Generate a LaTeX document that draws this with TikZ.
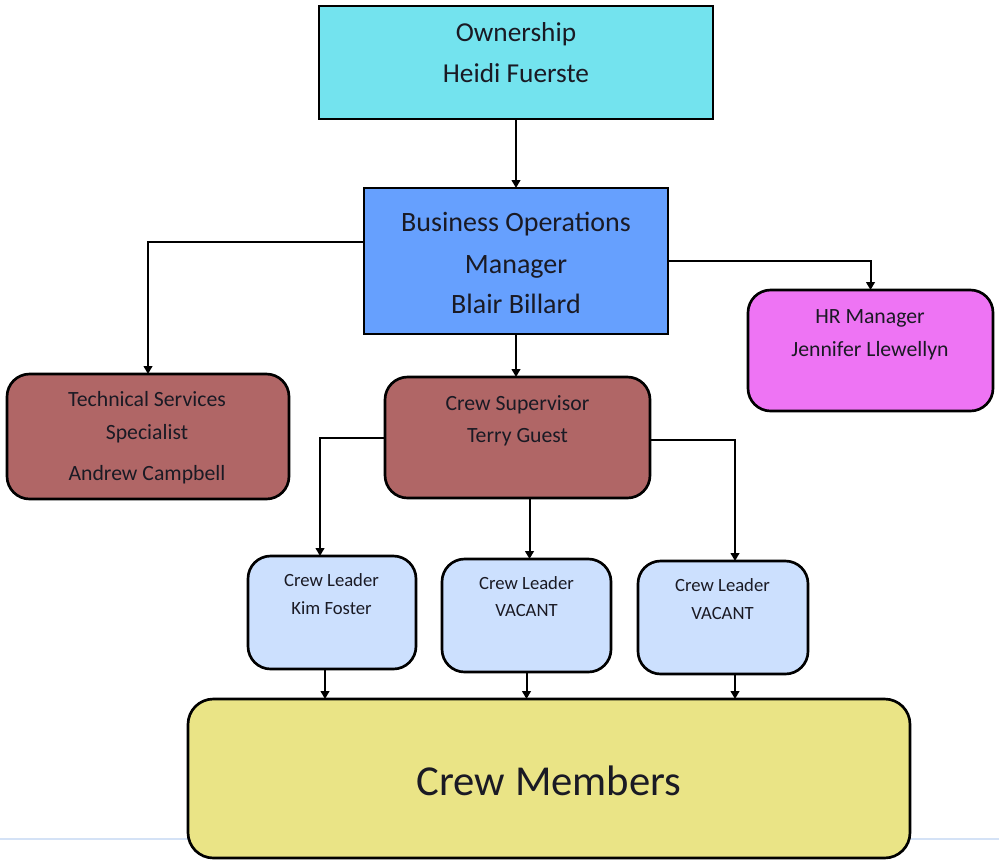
\documentclass[tikz,border=0pt]{standalone}
\usepackage{fontspec}
\setmainfont{Carlito}
\usetikzlibrary{arrows.meta}
\definecolor{owncol}{HTML}{73E3EE}
\definecolor{bomcol}{HTML}{66A0FE}
\definecolor{hrcol}{HTML}{EE74F4}
\definecolor{redcol}{HTML}{B06666}
\definecolor{clcol}{HTML}{CCE0FE}
\definecolor{crewcol}{HTML}{EAE486}
\definecolor{pagecol}{HTML}{D4E2F6}
\definecolor{txtcol}{HTML}{1A1A24}
\newcommand{\fsz}[1]{\fontsize{#1}{#1}\selectfont}
\begin{document}
\begin{tikzpicture}[x=0.75pt,y=-0.75pt,
  box/.style={draw=black, line width=2pt, inner sep=0pt, outer sep=0pt},
  rbox/.style={box, rounded corners=17pt},
  txt/.style={anchor=base, inner sep=0pt, text=txtcol},
  arr/.style={line width=1.5pt, -{Triangle[length=6pt,width=6.5pt]}}]
\useasboundingbox (0,0) rectangle (999,861);
\draw[color=pagecol, line width=0.8pt] (0,839) -- (999,839);
% boxes
\node[box, fill=owncol, minimum width=295.5pt, minimum height=84.75pt] (own) at (516,62.5) {};
\node[box, fill=bomcol, minimum width=228pt, minimum height=109.5pt] (bom) at (516,261) {};
\node[rbox, fill=hrcol, minimum width=183.75pt, minimum height=90.75pt] (hr) at (870.5,350.5) {};
\node[rbox, fill=redcol, minimum width=211.5pt, minimum height=93.75pt] (tech) at (148,436.5) {};
\node[rbox, fill=redcol, minimum width=198.75pt, minimum height=90.75pt] (sup) at (517.5,437.5) {};
\node[rbox, fill=clcol, minimum width=126pt, minimum height=84.75pt] (cl1) at (332,612.5) {};
\node[rbox, fill=clcol, minimum width=126.75pt, minimum height=84.75pt] (cl2) at (526.5,615.5) {};
\node[rbox, fill=clcol, minimum width=127.5pt, minimum height=84.75pt] (cl3) at (723,617.5) {};
\node[rbox, rounded corners=19pt, fill=crewcol, minimum width=541.5pt, minimum height=119.25pt] (crew) at (549,778.5) {};
% texts
\node[txt, font=\fsz{20.5}] (ownA) at (516,41) {Ownership};
\node[txt, font=\fsz{20.5}] (ownB) at (516,82) {Heidi Fuerste};
\node[txt, font=\fsz{21}] (bomA) at (516,231.5) {Business Operations};
\node[txt, font=\fsz{21}] (bomB) at (516,273) {Manager};
\node[txt, font=\fsz{21}] (bomC) at (516,313) {Blair Billard};
\node[txt, font=\fsz{16.3}] (hrA) at (870,323) {HR Manager};
\node[txt, font=\fsz{16.3}] (hrB) at (870,356) {Jennifer Llewellyn};
\node[txt, font=\fsz{16.3}] (techA) at (147,406.5) {Technical Services};
\node[txt, font=\fsz{16.3}] (techB) at (147,439.5) {Specialist};
\node[txt, font=\fsz{16.3}] (techC) at (147,480.5) {Andrew Campbell};
\node[txt, font=\fsz{16.3}] (supA) at (517.5,410.5) {Crew Supervisor};
\node[txt, font=\fsz{16.3}] (supB) at (517.5,442.5) {Terry Guest};
\node[txt, font=\fsz{14}] (cl1A) at (331.5,586.5) {Crew Leader};
\node[txt, font=\fsz{14}] (cl1B) at (331.5,614) {Kim Foster};
\node[txt, font=\fsz{14}] (cl2A) at (526.5,589.3) {Crew Leader};
\node[txt, font=\fsz{14}] (cl2B) at (526.5,616.7) {VACANT};
\node[txt, font=\fsz{14}] (cl3A) at (722.5,591.7) {Crew Leader};
\node[txt, font=\fsz{14}] (cl3B) at (722.5,619.3) {VACANT};
\node[txt, font=\fsz{32}] (crewA) at (549,795) {Crew Members};
% connectors
\draw[arr] (own.south) -- (bom.north);
\draw[arr] ([yshift=14.25pt]bom.west) -| (tech.north);
\draw[arr] (bom.east) -| (hr.north);
\draw[arr] (bom.south) -- (bom.south |- sup.north);
\draw[arr] (sup.west) -| ([xshift=-9pt]cl1.north);
\draw[arr] ([xshift=9pt]sup.south) -- ([xshift=9pt]sup.south |- cl2.north);
\draw[arr] ([yshift=-1.5pt]sup.east) -| ([xshift=9pt]cl3.north);
\draw[arr] ([xshift=-5.25pt]cl1.south) -- ([xshift=-5.25pt]cl1.south |- crew.north);
\draw[arr] (cl2.south) -- (cl2.south |- crew.north);
\draw[arr] ([xshift=9pt]cl3.south) -- ([xshift=9pt]cl3.south |- crew.north);
\end{tikzpicture}
\end{document}
